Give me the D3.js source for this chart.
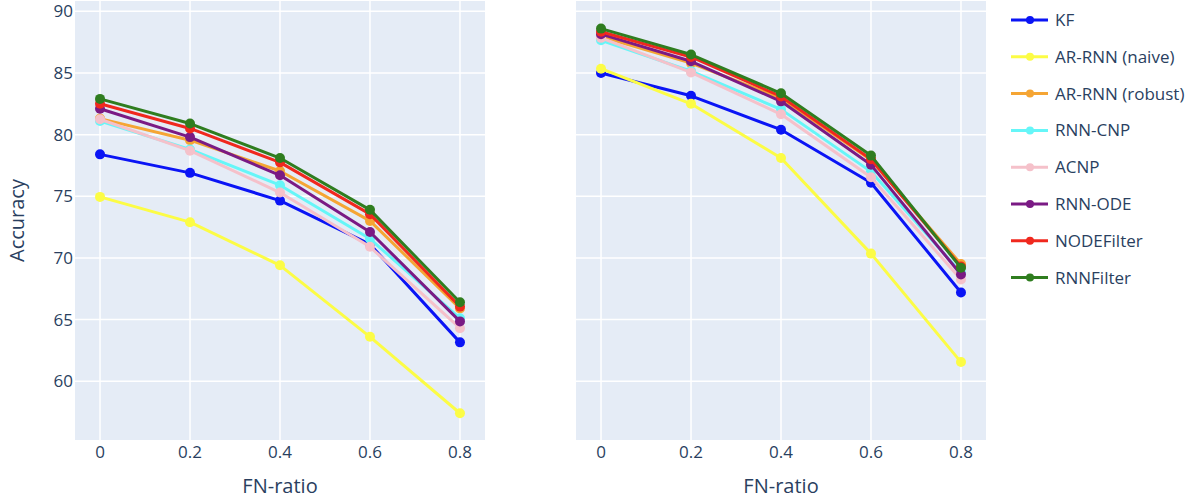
<!DOCTYPE html>
<html>
<head>
<meta charset="utf-8">
<script src="https://cdn.jsdelivr.net/npm/d3@7"></script>
<style>
  body { margin: 0; background: #fff; }
  svg { font-family: "Open Sans", "DejaVu Sans", sans-serif; }
</style>
</head>
<body>
<div id="chart"></div>
<script>
// data
const fnRatio = [0, 0.2, 0.4, 0.6, 0.8];
const xTicks = [0, 0.2, 0.4, 0.6, 0.8];
const yTicks = [60, 65, 70, 75, 80, 85, 90];
const models = ["KF", "AR-RNN (naive)", "AR-RNN (robust)", "RNN-CNP", "ACNP", "RNN-ODE", "NODEFilter", "RNNFilter"];
const colors = ["#0a14f5", "#fcfc45", "#f5a534", "#66f6f8", "#f5c1ca", "#7a1a84", "#f0281e", "#2f7d1f"];

// left panel
const accLeft = [
    [78.4, 76.9, 74.65, 71.1, 63.15],   // KF
    [74.95, 72.9, 69.4, 63.6, 57.4],    // AR-RNN (naive)
    [81.3, 79.55, 77.05, 73.0, 65.9],   // AR-RNN (robust)
    [81.1, 78.8, 75.9, 71.55, 65.1],    // RNN-CNP
    [81.25, 78.7, 75.3, 70.9, 64.3],    // ACNP
    [82.1, 79.8, 76.7, 72.1, 64.85],    // RNN-ODE
    [82.5, 80.5, 77.75, 73.55, 66.05],  // NODEFilter
    [82.9, 80.9, 78.1, 73.9, 66.4]      // RNNFilter
];
// right panel
const accRight = [
    [85.0, 83.15, 80.4, 76.1, 67.2],
    [85.35, 82.5, 78.1, 70.35, 61.55],
    [87.95, 85.8, 82.95, 77.95, 69.5],
    [87.65, 85.15, 82.05, 77.0, 68.8],
    [87.85, 85.05, 81.65, 76.55, 68.25],
    [88.15, 85.95, 82.7, 77.55, 68.65],
    [88.35, 86.3, 83.1, 78.0, 69.3],
    [88.6, 86.5, 83.35, 78.3, 69.2]
];

const W = 1195, H = 500;
const plotTop = 1, plotBottom = 440;
const panels = [
    { x0: 75, x1: 485, data: accLeft, showY: true },
    { x0: 576, x1: 986, data: accRight, showY: false }
];

const svg = d3.select("#chart").append("svg")
    .attr("width", W).attr("height", H);

const y = d3.scaleLinear().domain([55.23, 90.84]).range([plotBottom, plotTop]);
const textColor = "#2a3f5f";

panels.forEach(function (p) {
    const x = d3.scaleLinear().domain([-0.0556, 0.8556]).range([p.x0, p.x1]);
    const g = svg.append("g");

    g.append("rect")
        .attr("x", p.x0).attr("y", plotTop)
        .attr("width", p.x1 - p.x0).attr("height", plotBottom - plotTop)
        .attr("fill", "#e5ecf6");

    // grid
    g.selectAll(".gx").data(xTicks).join("line")
        .attr("x1", d => x(d)).attr("x2", d => x(d))
        .attr("y1", plotTop).attr("y2", plotBottom)
        .attr("stroke", "#fff").attr("stroke-width", 1.5);
    g.selectAll(".gy").data(yTicks).join("line")
        .attr("x1", p.x0).attr("x2", p.x1)
        .attr("y1", d => y(d)).attr("y2", d => y(d))
        .attr("stroke", "#fff").attr("stroke-width", 1.5);

    // x tick labels
    g.selectAll(".xt").data(xTicks).join("text")
        .attr("x", d => x(d)).attr("y", 458)
        .attr("text-anchor", "middle")
        .attr("font-size", 17).attr("fill", textColor)
        .text(d => d === 0 ? "0" : d3.format(".1f")(d));

    // x title
    g.append("text")
        .attr("x", (p.x0 + p.x1) / 2).attr("y", 493)
        .attr("text-anchor", "middle")
        .attr("font-size", 20).attr("fill", textColor)
        .text("FN-ratio");

    if (p.showY) {
        g.selectAll(".yt").data(yTicks).join("text")
            .attr("x", p.x0 - 2).attr("y", d => y(d))
            .attr("dy", "0.35em")
            .attr("text-anchor", "end")
            .attr("font-size", 17).attr("fill", textColor)
            .text(d => d);
        g.append("text")
            .attr("transform", `translate(24, ${(plotTop + plotBottom) / 2}) rotate(-90)`)
            .attr("text-anchor", "middle")
            .attr("font-size", 20).attr("fill", textColor)
            .text("Accuracy");
    }

    const line = d3.line().x((d, i) => x(fnRatio[i])).y(d => y(d));

    p.data.forEach(function (series, k) {
        g.append("path")
            .attr("d", line(series))
            .attr("fill", "none")
            .attr("stroke", colors[k])
            .attr("stroke-width", 3)
            .attr("stroke-linejoin", "round");
        g.selectAll(null).data(series).join("circle")
            .attr("cx", (d, i) => x(fnRatio[i]))
            .attr("cy", d => y(d))
            .attr("r", 5)
            .attr("fill", colors[k]);
    });
});

// legend
const legend = svg.append("g").attr("transform", "translate(1010, 20)");
models.forEach(function (name, k) {
    const item = legend.append("g").attr("transform", `translate(0, ${k * 36.8})`);
    item.append("line")
        .attr("x1", 1).attr("x2", 38).attr("y1", 0).attr("y2", 0)
        .attr("stroke", colors[k]).attr("stroke-width", 3);
    item.append("circle").attr("cx", 20).attr("cy", 0).attr("r", 4).attr("fill", colors[k]);
    item.append("text")
        .attr("x", 45).attr("y", 0).attr("dy", "0.35em")
        .attr("font-size", 17).attr("fill", textColor)
        .text(name);
});
</script>
</body>
</html>
